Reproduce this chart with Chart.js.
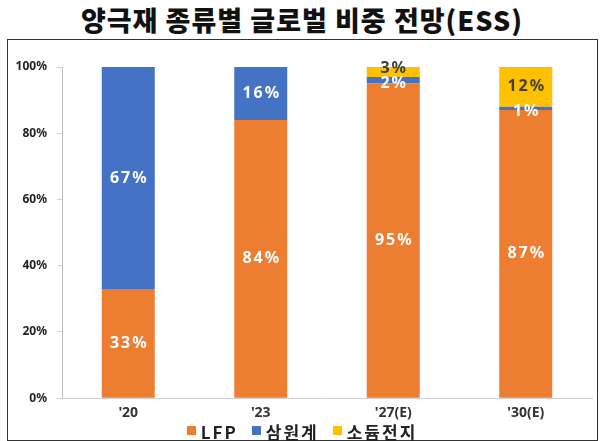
<!DOCTYPE html>
<html>
<head>
<meta charset="utf-8">
<script src="https://cdn.jsdelivr.net/npm/chart.js@4.4.1/dist/chart.umd.min.js"></script>
<style>
  body { margin: 0; background: #fff; width: 604px; height: 441px; overflow: hidden; }
  #titulo { position: absolute; left: 0; top: 0; width: 604px; height: 40px; text-align: center;
    font-family: "Noto Sans CJK KR", sans-serif; font-weight: 900; font-size: 27px; line-height: 40px;
    letter-spacing: 1px; color: #111; }
  #caja { position: absolute; left: 7px; top: 39px; width: 591px; height: 402px; border: 1.5px solid #333; box-sizing: border-box; }
  #caja canvas { display: block; }
  #leyenda { position: absolute; left: 0; top: 423px; width: 604px; height: 18px; line-height: 18px; display: flex; justify-content: center;
    align-items: center; font-family: "Noto Sans CJK KR", sans-serif; font-weight: 700; font-size: 17px; color: #222; letter-spacing: 2px; }
  #leyenda span.item { display: flex; align-items: center; margin: 0 7px; }
  #leyenda span.cuadro { width: 9px; height: 9px; margin-right: 5px; margin-top: -4px; }
</style>
</head>
<body>
<div id="titulo">양극재 종류별 글로벌 비중 전망(ESS)</div>
<div id="caja"><canvas id="grafico" width="588" height="387"></canvas></div>
<div id="leyenda"></div>
<script>
const categorias = ["'20", "'23", "'27(E)", "'30(E)"];
const series = ['LFP', '삼원계', '소듐전지'];
const lfp = [33, 84, 95, 87];
const samwongye = [67, 16, 2, 1];
const sodium = [0, 0, 3, 12];
const yTicks = [0, 20, 40, 60, 80, 100];

const colores = ['#ED7D31', '#4472C4', '#FFC000'];
const colorTexto = ['#ffffff', '#ffffff', '#404040'];

// leyenda en HTML
const leyenda = document.getElementById('leyenda');
series.forEach((nombre, i) => {
  const item = document.createElement('span');
  item.className = 'item';
  item.innerHTML = '<span class="cuadro" style="background:' + colores[i] + '"></span>' + nombre;
  leyenda.appendChild(item);
});

// etiquetas de datos dentro de cada segmento
const etiquetas = {
  id: 'etiquetas',
  afterDatasetsDraw(chart) {
    const ctx = chart.ctx;
    ctx.save();
    ctx.font = 'bold 16px "Noto Sans", sans-serif';
    ctx.letterSpacing = '2px';
    ctx.textAlign = 'center';
    ctx.textBaseline = 'middle';
    chart.data.datasets.forEach((ds, i) => {
      const meta = chart.getDatasetMeta(i);
      meta.data.forEach((bar, j) => {
        const v = ds.data[j];
        if (!v) return;
        const p = bar.getProps(['x', 'y', 'base'], true);
        let y = (p.y + p.base) / 2;
        if (v <= 3 && i === 2) y -= 4;
        if (v <= 3 && i === 1) y += 3;
        ctx.fillStyle = colorTexto[i];
        ctx.fillText(v + '%', p.x + 1, y);
      });
    });
    ctx.restore();
  }
};

const ctx = document.getElementById('grafico').getContext('2d');
ctx.letterSpacing = '1px';
new Chart(ctx, {
  type: 'bar',
  data: {
    labels: categorias,
    datasets: series.map((nombre, i) => ({
      label: nombre,
      data: [lfp, samwongye, sodium][i],
      backgroundColor: colores[i]
    }))
  },
  options: {
    responsive: false,
    animation: false,
    layout: { padding: { left: 0, right: 4, top: 27, bottom: 0 } },
    datasets: { bar: { categoryPercentage: 1, barPercentage: 0.4 } },
    plugins: {
      tooltip: { enabled: false },
      legend: { display: false }
    },
    scales: {
      x: {
        stacked: true,
        grid: { display: false, drawTicks: false },
        border: { color: '#d0d0d0' },
        ticks: { color: '#333', padding: 6, font: { family: '"Noto Sans", sans-serif', size: 14, weight: 'bold' } }
      },
      y: {
        stacked: true,
        min: 0, max: 100,
        afterBuildTicks: (s) => { s.ticks = yTicks.map(v => ({ value: v })); },
        afterFit: (s) => { s.width = 54; },
        grid: { drawOnChartArea: false, drawTicks: true, tickLength: 5, color: '#d0d0d0' },
        border: { color: '#bfbfbf' },
        ticks: {
          color: '#222', padding: 10,
          font: { family: '"Noto Sans", sans-serif', size: 12, weight: 'bold' },
          callback: (v) => v + '%'
        }
      }
    }
  },
  plugins: [etiquetas]
});
</script>
</body>
</html>
